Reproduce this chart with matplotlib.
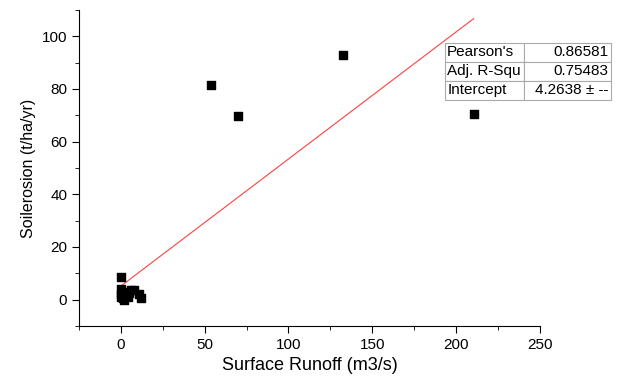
import numpy as np
import matplotlib.pyplot as plt
from matplotlib.ticker import MultipleLocator

plt.rcParams['font.family'] = ['Liberation Sans', 'DejaVu Sans']

# Surface runoff (m3/s) vs soil erosion (t/ha/yr)
runoff = [53.5, 70.0, 132.7, 210.5, 0.0, 0.0, 0.0, 0.3, 1.0, 2.0, 2.5,
          3.5, 5.0, 6.0, 7.5, 10.5, 12.0, 1.5, 4.0]
erosion = [81.5, 69.8, 93.0, 70.3, 8.5, 4.0, 2.0, 1.0, 0.5, 0.0, 3.0,
           2.0, 2.5, 3.5, 3.5, 2.0, 0.5, 1.5, 1.0]

stat_names = ["Pearson's", "Adj. R-Squ", "Intercept"]
stat_values = ["0.86581", "0.75483", "4.2638 ± --"]

fig = plt.figure(figsize=(6.38, 3.79), dpi=100)
ax = fig.add_axes([0.124, 0.140, 0.722, 0.834])

ax.scatter(runoff, erosion, marker='s', s=40, color='black', zorder=3)

# linear fit
slope, icpt = np.polyfit(runoff, erosion, 1)
xf = np.array([min(runoff), max(runoff)])
ax.plot(xf, icpt + slope * xf, color='#ff4040', lw=0.8, zorder=2)

ax.set_xlim(-25, 250)
ax.set_ylim(-10, 110)
ax.xaxis.set_major_locator(MultipleLocator(50))
ax.xaxis.set_minor_locator(MultipleLocator(25))
ax.yaxis.set_major_locator(MultipleLocator(20))
ax.yaxis.set_minor_locator(MultipleLocator(10))
for s in ['top', 'right']:
    ax.spines[s].set_visible(False)
ax.tick_params(which='both', direction='out', labelsize=11)
ax.tick_params(which='major', length=5)
ax.tick_params(which='minor', length=3)
ax.set_xlabel('Surface Runoff (m3/s)', fontsize=13)
ax.set_ylabel('Soilerosion (t/ha/yr)', fontsize=11.5)

tbl = ax.table(cellText=[[n, v] for n, v in zip(stat_names, stat_values)],
               cellLoc='left', colWidths=[0.48, 0.52],
               bbox=[0.794, 0.715, 0.36, 0.181])
tbl.auto_set_font_size(False)
tbl.set_fontsize(11)
for (r, c), cell in tbl.get_celld().items():
    cell.set_edgecolor('#aaaaaa')
    cell.set_linewidth(0.8)
    cell.set_clip_on(False)
    cell.PAD = 0.03
    if c == 1:
        cell._loc = 'right'
        cell.get_text().set_ha('right')

fig.savefig('out.png', dpi=100)
